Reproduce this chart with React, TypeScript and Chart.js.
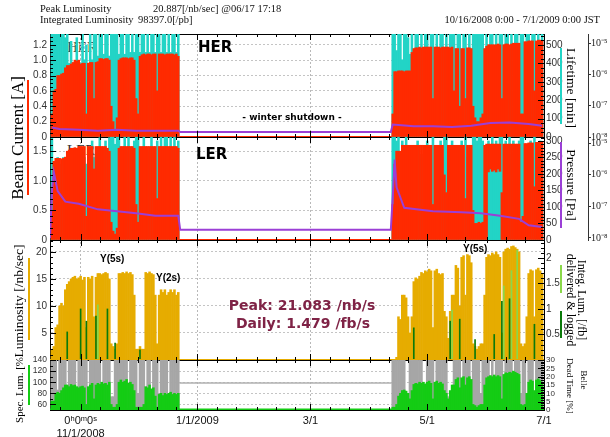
import React, { useEffect, useRef } from 'react';
import { Chart, registerables } from 'chart.js';

Chart.register(...registerables);

// ---------- x axis: days since 10/16/2008 0:00 ----------
const majorTickDays = [16, 77, 136, 197, 258];
const majorTickLabels: (string | string[])[] = [['0ʰ0ᵐ0ˢ', '11/1/2008'], '1/1/2009', '3/1', '5/1', '7/1'];
const minorTickDays = [5, 26, 36, 46, 56, 66, 87, 97, 108, 118, 128, 146, 156, 167, 177, 187, 207, 217, 228, 238, 248];
const logTickValues = [1e-8, 1e-7, 1e-6, 1e-5];

const run1StartDay = 1;
const run2StartDay = 179;
const shutdownDays = [67.5, 178.5];
const fullRangeDays = [0, 258];

// ---------- Run 1 (daily, from 10/17/2008) ----------
const herCurrentRun1 = [0.3, 0.6, 0.62, 0.8, 0.8, 0.82, 0.83, 0.9, 0.93, 0.93,
  0.95, 0.97, 1.0, 0.99, 1.0, 0.95, 0.96, 0.96, 0.3, 0.96,
  0.97, 0.97, 0.5, 0.97, 0.98, 1.02, 1.02, 1.01, 1.02, 1.02,
  1.0, 0.4, 0.2, 0.1, 0.25, 1.0, 1.02, 1.03, 1.03, 1.03,
  1.02, 1.03, 1.03, 1.0, 0.5, 0.3, 1.05, 1.07, 1.08, 1.07,
  1.08, 1.08, 1.07, 1.08, 1.08, 0.6, 1.08, 1.08, 1.08, 1.07,
  1.08, 1.08, 1.08, 1.08, 1.07, 1.08, 1.05];
const lerCurrentRun1 = [0.5, 1.33, 1.38, 1.38, 1.38, 1.37, 1.38, 1.4, 1.5, 1.52,
  1.55, 1.55, 1.56, 1.55, 1.58, 1.58, 1.58, 1.58, 0.4, 1.58,
  1.58, 1.58, 1.2, 1.58, 1.58, 1.58, 1.58, 1.58, 1.58, 1.55,
  1.5, 0.3, 0.15, 0.1, 0.2, 1.55, 1.58, 1.58, 1.58, 1.58,
  1.58, 1.58, 1.58, 1.55, 0.6, 0.3, 1.58, 1.58, 1.58, 1.58,
  1.58, 1.58, 1.58, 1.58, 1.58, 0.7, 1.58, 1.58, 1.58, 1.58,
  1.58, 1.58, 1.58, 1.58, 1.58, 1.58, 1.55];
const herLifetimeRun1 = [560, 560, 560, 560, 560, 560, 560, 540, 560, 400,
  520, 400, 380, 540, 400, 400, 560, 420, 500, 400,
  560, 420, 560, 560, 440, 560, 560, 450, 560, 560,
  440, 560, 560, 560, 560, 450, 560, 560, 450, 560,
  560, 460, 560, 460, 560, 560, 460, 560, 560, 460,
  560, 460, 560, 560, 460, 560, 560, 460, 560, 560,
  460, 560, 460, 560, 560, 460, 560];
const lerLifetimeRun1 = [312, 200, 200, 250, 200, 230, 250, 200, 230, 240,
  260, 230, 250, 250, 260, 250, 270, 250, 230, 260,
  250, 300, 250, 260, 250, 310, 260, 250, 300, 250,
  310, 312, 312, 290, 312, 312, 260, 280, 312, 270,
  312, 260, 280, 300, 312, 312, 260, 270, 312, 260,
  270, 250, 312, 260, 280, 300, 260, 312, 260, 312,
  312, 280, 312, 270, 312, 260, 300];
const luminosityRun1 = [2, 2.5, 6, 6.5, 10, 10.5, 10, 13, 14, 14.5,
  15, 15.3, 15.5, 15, 15.2, 15.5, 14.8, 15.3, 6, 15.3,
  15, 15.5, 8, 15.3, 16, 16, 15.8, 16, 16.2, 16,
  15, 3, 2.5, 2, 3, 16, 16, 16.2, 16, 16.3,
  16, 16.2, 15.8, 12, 2, 2, 2.5, 2, 2, 16.2,
  16, 16.3, 16, 15.8, 12, 3, 12, 13, 12.5, 13,
  12, 12.5, 13, 12.5, 13, 12, 12.5];
const specLumRun1 = [66, 66, 80, 82, 80, 85, 90, 95, 95, 92,
  96, 94, 95, 92, 90, 92, 93, 90, 60, 92,
  95, 98, 70, 95, 98, 96, 100, 97, 98, 95,
  100, 60, 55, 55, 60, 100, 104, 100, 102, 105,
  98, 100, 96, 85, 55, 55, 55, 55, 60, 92,
  90, 95, 88, 90, 75, 55, 78, 80, 76, 80,
  78, 80, 82, 78, 80, 78, 80];
const deadTimeRun1 = [30, 30, 30, 12, 30, 30, 30, 30, 10, 30,
  30, 30, 30, 12, 30, 30, 30, 30, 30, 10,
  30, 30, 30, 30, 30, 30, 12, 30, 30, 30,
  30, 8, 8, 30, 30, 30, 30, 30, 30, 30,
  10, 30, 30, 30, 30, 10, 30, 30, 30, 10,
  30, 30, 12, 30, 30, 30, 10, 30, 30, 30,
  30, 8, 30, 30, 30, 30, 30];

// ---------- Run 2 (daily, from 4/13/2009) ----------
const herCurrentRun2 = [0.3, 0.85, 0.85, 0.86, 0.86, 0.86, 0.85, 0.86, 0.86, 0.86,
  1.1, 1.15, 1.16, 1.16, 1.17, 1.16, 1.17, 1.17, 1.17, 1.17,
  1.17, 0.5, 1.17, 1.17, 1.17, 1.16, 1.17, 1.17, 1.17, 1.17,
  1.16, 1.17, 0.6, 1.15, 1.15, 0.4, 1.15, 1.15, 0.5, 1.16,
  1.16, 1.15, 0.4, 0.25, 0.2, 0.2, 0.25, 0.3, 1.15, 1.18,
  1.2, 1.2, 1.2, 1.2, 1.2, 1.21, 1.2, 0.5, 1.2, 1.21,
  1.21, 1.2, 1.21, 1.22, 1.22, 1.22, 1.22, 0.3, 0.3, 1.24,
  1.24, 1.25, 1.25, 1.25, 0.6, 1.25, 1.26, 1.26, 1.25];
const lerCurrentRun2 = [0.6, 1.28, 1.5, 1.5, 1.5, 1.6, 1.6, 1.6, 1.6, 1.6,
  1.6, 1.6, 1.6, 1.6, 1.6, 1.6, 1.6, 1.6, 1.6, 1.6,
  1.6, 0.6, 1.6, 1.6, 1.6, 1.6, 1.6, 1.1, 0.8, 1.6,
  1.6, 1.6, 1.6, 1.6, 1.6, 1.6, 1.6, 1.6, 0.7, 1.6,
  1.6, 1.6, 0.5, 0.28, 0.28, 0.3, 0.28, 0.3, 1.6, 1.62,
  1.62, 1.62, 1.62, 1.62, 1.62, 1.62, 1.62, 0.8, 1.62, 1.62,
  1.62, 1.62, 1.62, 1.62, 1.62, 1.62, 1.62, 0.3, 0.4, 1.63,
  1.63, 1.64, 1.64, 1.64, 0.9, 1.65, 1.65, 1.65, 1.65];
const lerHoldStartDay = 229;
const lerHoldLow = [1.15, 1.2, 1.16, 1.18, 1.15, 1.2, 1.16];
const herLifetimeRun2 = [560, 560, 470, 560, 560, 420, 560, 560, 540, 450,
  560, 480, 560, 560, 480, 560, 480, 560, 560, 480,
  560, 560, 480, 560, 480, 560, 560, 480, 560, 480,
  560, 560, 560, 480, 560, 560, 480, 560, 560, 480,
  560, 480, 560, 560, 560, 560, 560, 560, 480, 560,
  480, 560, 560, 480, 560, 480, 560, 560, 480, 560,
  560, 480, 560, 480, 560, 560, 480, 560, 560, 480,
  560, 560, 480, 560, 560, 480, 560, 480, 560];
const lerLifetimeRun2 = [312, 312, 300, 312, 260, 300, 270, 312, 260, 270,
  260, 250, 260, 300, 250, 260, 250, 270, 300, 260,
  250, 312, 260, 250, 260, 300, 250, 312, 312, 260,
  250, 300, 260, 250, 260, 250, 300, 260, 312, 250,
  260, 250, 312, 312, 300, 312, 312, 300, 260, 280,
  300, 260, 312, 270, 300, 260, 312, 312, 260, 300,
  260, 312, 260, 300, 260, 250, 300, 312, 312, 260,
  250, 260, 300, 250, 312, 260, 250, 300, 260];
const luminosityRun2 = [0, 0, 0.5, 8, 7.5, 12, 12, 11.5, 8, 5,
  8, 14.5, 15.2, 15, 15.5, 16.2, 16, 16.5, 16.3, 16.8,
  16.5, 6, 16.5, 16.8, 16, 15.8, 16, 9, 8, 4,
  9, 12, 12, 17.5, 17, 10, 19, 19.3, 12, 19.5,
  19.3, 18, 3, 2.5, 2, 2.5, 3, 3, 12, 19,
  19.5, 19.3, 19.8, 19.5, 20, 19.5, 19, 5, 20, 20.5,
  20.7, 20.5, 21, 21.1, 20.8, 20.5, 20, 3, 2.5, 3,
  8, 16, 16.7, 16.5, 8, 16.7, 17, 16.5, 16];
const specLumRun2 = [55, 55, 60, 75, 80, 85, 86, 84, 80, 70,
  85, 96, 98, 97, 100, 98, 100, 97, 100, 102,
  98, 70, 100, 102, 98, 100, 97, 85, 80, 70,
  85, 95, 95, 105, 108, 90, 108, 110, 95, 108,
  110, 105, 60, 58, 55, 58, 60, 60, 95, 108,
  110, 112, 110, 113, 110, 112, 110, 70, 114, 117,
  116, 118, 117, 120, 118, 116, 114, 60, 58, 60,
  80, 100, 104, 102, 85, 104, 106, 103, 100];
const deadTimeRun2 = [30, 30, 30, 30, 30, 30, 30, 8, 10, 30,
  30, 30, 30, 30, 30, 30, 10, 8, 30, 30,
  30, 30, 10, 30, 30, 30, 30, 30, 30, 8,
  6, 8, 30, 30, 30, 30, 10, 30, 30, 30,
  30, 10, 30, 30, 30, 30, 10, 30, 30, 30,
  30, 8, 30, 10, 30, 30, 30, 30, 10, 30,
  30, 30, 30, 10, 30, 30, 30, 10, 30, 30,
  10, 30, 30, 30, 10, 30, 30, 30, 30];

// ---------- sparse series ----------
const herPressureDays = [1, 5, 15, 25, 35, 45, 55, 67, 68, 178, 179, 190, 200, 210, 220, 230, 240, 250, 257];
const herPressure = [2.0e-8, 1.8e-8, 1.7e-8, 1.6e-8, 1.7e-8, 1.6e-8, 1.6e-8, 1.6e-8, 1.45e-8, 1.45e-8, 2.5e-8, 2.2e-8, 2.2e-8, 2.1e-8, 2.3e-8, 2.8e-8, 2.9e-8, 2.6e-8, 2.3e-8];
const lerPressureDays = [0, 1, 2, 4, 8, 15, 25, 35, 45, 55, 67, 68, 178, 179, 180, 181, 185, 200, 215, 225, 235, 245, 250, 257];
const lerPressure = [1e-8, 3e-7, 1.2e-6, 3e-7, 1.4e-7, 1.2e-7, 8e-8, 7e-8, 6e-8, 5e-8, 5e-8, 1.8e-8, 1.8e-8, 2e-7, 3e-6, 4e-7, 9e-8, 7e-8, 6.5e-8, 6e-8, 5e-8, 4e-8, 2.5e-8, 2.2e-8];
const loggedDays = [9, 16, 19, 24, 30, 34, 47, 190, 209, 214, 222, 232, 236, 240, 253];
const loggedLum = [0.55, 1.0, 0.76, 0.86, 1.0, 0.33, 0.2, 0.63, 0.76, 0.8, 0.4, 0.5, 1.15, 1.2, 0.7];
const deliveredDays = [25, 210, 237, 241, 244];
const deliveredLum = [1.08, 0.98, 1.45, 1.75, 2.15];
const shutdownDeadTime = 16.2;

// ---------- styling ----------
const SERIF = "'Liberation Serif', 'Times New Roman', serif";
const SANS = "'Liberation Sans', Arial, sans-serif";
const DEJAVU = "'DejaVu Sans', sans-serif";
const RED = '#ff2a00';
const CYAN = '#22d4c6';
const PURPLE = '#9b3fd6';
const ORANGE = '#e6ac00';
const GREEN = '#14cc14';
const DKGREEN = '#0a7a0a';
const LTGREEN = '#8ad84a';
const GRAY = '#a6a6a6';
const MAROON = '#7f2346';

const daily = (start: number, vals: number[]) => vals.map((v, i) => ({ x: start + i, y: v }));
const pairs = (days: number[], vals: number[]) => days.map((d, i) => ({ x: d, y: vals[i] }));
const flat = (days: number[], v: number) => days.map((d) => ({ x: d, y: v }));

const lerRun2Points = lerCurrentRun2.map((v, i) => {
  const d = run2StartDay + i;
  const k = d - lerHoldStartDay;
  return { x: d, y: k >= 0 && k < lerHoldLow.length ? [lerHoldLow[k], v] : v };
});

const SUP: Record<string, string> = { '-': '⁻', '0': '⁰', '1': '¹', '2': '²', '3': '³', '4': '⁴', '5': '⁵', '6': '⁶', '7': '⁷', '8': '⁸', '9': '⁹' };
const logLabel = (v: number) => '10' + String(Math.round(Math.log10(v))).split('').map((c) => SUP[c]).join('');

const barBase = { type: 'bar', grouped: false, barPercentage: 1, categoryPercentage: 1, borderWidth: 0 };
const lineBase = { type: 'line', pointRadius: 0, fill: false, tension: 0 };

function leftAxis(weight: number, stackWeight: number, min: number, max: number, step: number, size: number, extra: any = {}) {
  return {
    type: 'linear', position: 'left', stack: 'L', stackWeight, weight, min, max,
    ticks: { stepSize: step, includeBounds: false, autoSkip: false, font: { family: SANS, size }, color: '#333', padding: 3, ...(extra.ticks || {}) },
    grid: { color: '#c4c4c4', lineWidth: 1, drawTicks: false },
    border: { display: true, color: '#000', width: 1, dash: [2, 2] },
    afterFit: (s: any) => { s.width = 50; },
    ...(extra.afterBuildTicks ? { afterBuildTicks: extra.afterBuildTicks } : {}),
  };
}
function rightAxis(weight: number, stackWeight: number, min: number, max: number, step: number, size: number, extra: any = {}) {
  return {
    type: 'linear', position: 'right', stack: 'R', stackWeight, weight, min, max,
    ticks: { stepSize: step, includeBounds: false, autoSkip: false, font: { family: SANS, size }, color: '#333', padding: 2, ...(extra.ticks || {}) },
    grid: { display: false, drawTicks: false },
    border: { display: true, color: '#000', width: 1 },
    afterFit: (s: any) => { s.width = 44; },
  };
}
function logAxis(weight: number, min: number, max: number) {
  return {
    type: 'logarithmic', position: 'right', stack: 'R2', stackWeight: 103, weight, min, max,
    afterBuildTicks: (s: any) => { s.ticks = logTickValues.map((v) => ({ value: v })); },
    ticks: { autoSkip: false, font: { family: SERIF, size: 10 }, color: '#222', padding: 0, callback: (v: any) => logLabel(Number(v)) },
    grid: { display: true, drawOnChartArea: false, drawTicks: true, tickLength: 3, color: '#333' },
    border: { display: true, color: '#333', width: 1 },
    afterFit: (s: any) => { s.width = 22; },
  };
}
function blankAxis(weight: number, stackWeight: number) {
  return {
    type: 'linear', position: 'right', stack: 'R2', stackWeight, weight, min: 0, max: 1,
    ticks: { display: false }, grid: { display: false, drawTicks: false }, border: { display: false },
    afterFit: (s: any) => { s.width = 22; },
  };
}

const panelIds = ['yHER', 'yLER', 'yLum', 'ySpec'];
const leftMinor: [string, number][] = [['yHER', 4], ['yLER', 5], ['yLum', 5], ['ySpec', 2]];
const rightMinor: [string, number][] = [['tHER', 4], ['tLER', 5], ['yInt', 5], ['yDead', 5]];

const framePlugin = {
  id: 'panelFrame',
  beforeDatasetsDraw(chart: any) {
    const { ctx, chartArea: a, scales } = chart;
    ctx.save();
    ctx.strokeStyle = '#000';
    ctx.lineWidth = 1;
    ctx.beginPath();
    panelIds.forEach((id) => {
      const s = scales[id];
      [s.top, s.bottom].forEach((y: number) => {
        const yy = Math.round(y) + 0.5;
        ctx.moveTo(a.left, yy);
        ctx.lineTo(a.right, yy);
      });
    });
    ctx.stroke();
    ctx.restore();
  },
  afterDatasetsDraw(chart: any) {
    const { ctx, chartArea: a, scales } = chart;
    const xs = scales.x;
    ctx.save();
    ctx.strokeStyle = '#000';
    ctx.lineWidth = 1;
    ctx.beginPath();
    panelIds.forEach((id) => {
      const s = scales[id];
      const mark = (d: number, len: number) => {
        const x = Math.round(xs.getPixelForValue(d)) + 0.5;
        ctx.moveTo(x, s.bottom); ctx.lineTo(x, s.bottom - len);
        ctx.moveTo(x, s.top); ctx.lineTo(x, s.top + len);
      };
      majorTickDays.forEach((d) => mark(d, 6));
      minorTickDays.forEach((d) => mark(d, 3));
    });
    const yMarks = (id: string, n: number, edge: number, dir: number) => {
      const s = scales[id];
      const t = s.ticks;
      if (!t || t.length < 2) return;
      const step = t[1].value - t[0].value;
      for (let k = -n; k < 400; k++) {
        const v = t[0].value + (k * step) / n;
        if (v > s.max + 1e-9) break;
        if (v < s.min - 1e-9) continue;
        const len = ((k % n) + n) % n === 0 ? 6 : 3;
        const y = Math.round(s.getPixelForValue(v)) + 0.5;
        ctx.moveTo(edge, y);
        ctx.lineTo(edge + dir * len, y);
      }
    };
    leftMinor.forEach(([id, n]) => yMarks(id, n, a.left, 1));
    rightMinor.forEach(([id, n]) => yMarks(id, n, a.right, -1));
    ctx.stroke();
    ctx.restore();
  },
};

function buildConfig(): any {
  return {
    type: 'bar',
    data: {
      datasets: [
        { ...lineBase, yAxisID: 'pHER', data: pairs(herPressureDays, herPressure), borderColor: PURPLE, borderWidth: 2, order: 1 },
        { ...lineBase, yAxisID: 'pLER', data: pairs(lerPressureDays, lerPressure), borderColor: PURPLE, borderWidth: 2, order: 1 },
        { ...lineBase, yAxisID: 'yHER', data: flat(shutdownDays, 0), borderColor: RED, borderWidth: 2, order: 2 },
        { ...lineBase, yAxisID: 'yLER', data: flat(shutdownDays, 0), borderColor: RED, borderWidth: 2, order: 2 },
        { ...barBase, yAxisID: 'yHER', data: [...daily(run1StartDay, herCurrentRun1), ...daily(run2StartDay, herCurrentRun2)], backgroundColor: RED, order: 3 },
        { ...barBase, yAxisID: 'yLER', data: [...daily(run1StartDay, lerCurrentRun1), ...lerRun2Points], backgroundColor: RED, order: 3 },
        { ...barBase, yAxisID: 'tHER', data: [...daily(run1StartDay, herLifetimeRun1), ...daily(run2StartDay, herLifetimeRun2)], backgroundColor: CYAN, order: 4 },
        { ...barBase, yAxisID: 'tLER', data: [...daily(run1StartDay, lerLifetimeRun1), ...daily(run2StartDay, lerLifetimeRun2)], backgroundColor: CYAN, order: 4 },
        { ...lineBase, yAxisID: 'yLum', data: flat(fullRangeDays, 0), borderColor: ORANGE, borderWidth: 2, order: 1 },
        { ...barBase, yAxisID: 'yInt', data: pairs(loggedDays, loggedLum), backgroundColor: DKGREEN, barThickness: 1, order: 2 },
        { ...barBase, yAxisID: 'yInt', data: pairs(deliveredDays, deliveredLum), backgroundColor: LTGREEN, barThickness: 1, order: 2 },
        { ...barBase, yAxisID: 'yLum', data: [...daily(run1StartDay, luminosityRun1), ...daily(run2StartDay, luminosityRun2)], backgroundColor: ORANGE, order: 3 },
        { ...lineBase, yAxisID: 'ySpec', data: flat(fullRangeDays, 50), borderColor: GREEN, borderWidth: 3, order: 1 },
        { ...lineBase, yAxisID: 'yDead', data: flat(shutdownDays, shutdownDeadTime), borderColor: '#b0b0b0', borderWidth: 1.5, order: 2 },
        { ...barBase, yAxisID: 'ySpec', data: [...daily(run1StartDay, specLumRun1), ...daily(run2StartDay, specLumRun2)], backgroundColor: GREEN, order: 3 },
        { ...barBase, yAxisID: 'yDead', data: [...daily(run1StartDay, deadTimeRun1), ...daily(run2StartDay, deadTimeRun2)], backgroundColor: GRAY, order: 4 },
      ],
    },
    options: {
      responsive: false,
      maintainAspectRatio: false,
      animation: false,
      events: [],
      layout: { padding: { top: 34, left: 0, right: 0, bottom: 0 } },
      plugins: { legend: { display: false }, tooltip: { enabled: false }, title: { display: false } },
      scales: {
        x: {
          type: 'linear', position: 'bottom', min: 0, max: 258, offset: false,
          afterBuildTicks: (s: any) => { s.ticks = majorTickDays.map((v) => ({ value: v })); },
          ticks: { autoSkip: false, maxRotation: 0, minRotation: 0, padding: 4, font: { family: SANS, size: 11 }, color: '#111', callback: (_v: any, i: number) => majorTickLabels[i] },
          grid: { color: '#b8b8b8', drawTicks: false, offset: false },
          border: { display: true, color: '#000', dash: [2, 2] },
          afterFit: (s: any) => { s.height = 27; },
        },
        ySpec: leftAxis(1, 50, 50, 140, 20, 8.5, { afterBuildTicks: (s: any) => { s.ticks = [60, 80, 100, 120, 140].map((v) => ({ value: v })); } }),
        yLum: leftAxis(2, 120, 0, 22.2, 5, 10, { ticks: { callback: (v: any) => (Number(v) === 0 ? '' : String(v)) } }),
        yLER: leftAxis(3, 103, 0, 1.74, 0.5, 10),
        yHER: leftAxis(4, 103, 0, 1.34, 0.2, 10),
        tHER: rightAxis(1, 103, 0, 560, 100, 10),
        pHER: logAxis(2, 1e-8, 2e-5),
        tLER: rightAxis(3, 103, 0, 312, 50, 10),
        pLER: logAxis(4, 8.6e-9, 1.55e-5),
        yInt: rightAxis(5, 120, 0, 2.35, 0.5, 10, { ticks: { callback: (v: any) => (Number(v) === 0 ? '' : String(v)) } }),
        b3: blankAxis(6, 120),
        yDead: rightAxis(7, 50, 0, 30, 5, 8),
        b4: blankAxis(8, 50),
      },
    },
    plugins: [framePlugin],
  };
}

type LP = { x: number; y: number; text: string; size: number; family?: string; weight?: any; color?: string; rotate?: number; align?: 'left' | 'center' | 'right'; z?: number };
function Label({ x, y, text, size, family = SERIF, weight = 'normal', color = '#000', rotate = 0, align = 'left', z = 2 }: LP) {
  const tx = align === 'left' ? '0' : align === 'center' ? '-50%' : '-100%';
  return (
    <div style={{ position: 'absolute', left: x, top: y, transform: `translate(${tx}, -50%) rotate(${rotate}deg)`, fontFamily: family, fontSize: size, fontWeight: weight, color, whiteSpace: 'nowrap', lineHeight: 1, zIndex: z }}>
      {text}
    </div>
  );
}
function Bar({ x, y, h, color }: { x: number; y: number; h: number; color: string }) {
  return <div style={{ position: 'absolute', left: x, top: y, width: 2, height: h, background: color, zIndex: 2 }} />;
}

export default function App() {
  const ref = useRef<HTMLCanvasElement>(null);
  useEffect(() => {
    const chart = new Chart(ref.current as HTMLCanvasElement, buildConfig());
    return () => chart.destroy();
  }, []);
  return (
    <div style={{ position: 'fixed', left: 0, top: 0, width: 610, height: 437, background: '#fff', overflow: 'hidden' }}>
      <Label x={67} y={47} text="HER" size={15} color="#333" z={0} />
      <Label x={67} y={150} text="LER" size={15} color="#333" z={0} />
      <canvas ref={ref} width={610} height={437} style={{ position: 'absolute', left: 0, top: 0, zIndex: 1 }} />

      <Label x={40} y={9} text="Peak Luminosity" size={10.5} color="#111" />
      <Label x={153} y={9} text="20.887[/nb/sec] @06/17 17:18" size={10.5} color="#111" />
      <Label x={40} y={20} text="Integrated Luminosity" size={10.5} color="#111" />
      <Label x={138} y={20} text="98397.0[/pb]" size={10.5} color="#111" />
      <Label x={600} y={20} text="10/16/2008 0:00 - 7/1/2009 0:00 JST" size={10.5} color="#111" align="right" />

      <Label x={17} y={138} text="Beam Current [A]" size={17} rotate={-90} align="center" />
      <Bar x={27} y={80} h={115} color={RED} />
      <Label x={19} y={301} text="Luminosity [/nb/sec]" size={13.5} rotate={-90} align="center" />
      <Bar x={28} y={258} h={82} color={ORANGE} />
      <Label x={19} y={390} text="Spec. Lum. [%" size={11} rotate={-90} align="center" />
      <Bar x={28} y={365} h={40} color={GREEN} />

      <Label x={571} y={88} text="Lifetime [min]" size={13.5} rotate={90} align="center" />
      <Bar x={560} y={48} h={76} color={CYAN} />
      <Label x={571} y={185} text="Pressure [Pa]" size={13.5} rotate={90} align="center" />
      <Bar x={560} y={142} h={86} color={PURPLE} />
      <Label x={582} y={300} text="Integ. Lum. [/fb]" size={12} rotate={90} align="center" />
      <Label x={571} y={300} text="delivered & logged" size={12} rotate={90} align="center" />
      <Bar x={560} y={265} h={28} color={LTGREEN} />
      <Bar x={560} y={311} h={27} color={DKGREEN} />
      <Label x={583} y={380} text="Belle" size={9} rotate={90} align="center" />
      <Label x={569} y={386} text="Dead Time [%]" size={9} rotate={90} align="center" />

      <Label x={198} y={47} text="HER" size={15} family={DEJAVU} weight="bold" />
      <Label x={196} y={154} text="LER" size={15} family={DEJAVU} weight="bold" />
      <Label x={292} y={117} text="- winter shutdown -" size={9} family={DEJAVU} weight="bold" align="center" />
      <Label x={100} y={259} text="Υ(5s)" size={10} family={SANS} weight="bold" />
      <Label x={156} y={278} text="Υ(2s)" size={10} family={SANS} weight="bold" />
      <Label x={463} y={249} text="Υ(5s)" size={10} family={SANS} weight="bold" />
      <Label x={302} y={305} text="Peak: 21.083 /nb/s" size={14} family={DEJAVU} weight="bold" color={MAROON} align="center" />
      <Label x={303} y={323} text="Daily: 1.479 /fb/s" size={14} family={DEJAVU} weight="bold" color={MAROON} align="center" />
    </div>
  );
}
